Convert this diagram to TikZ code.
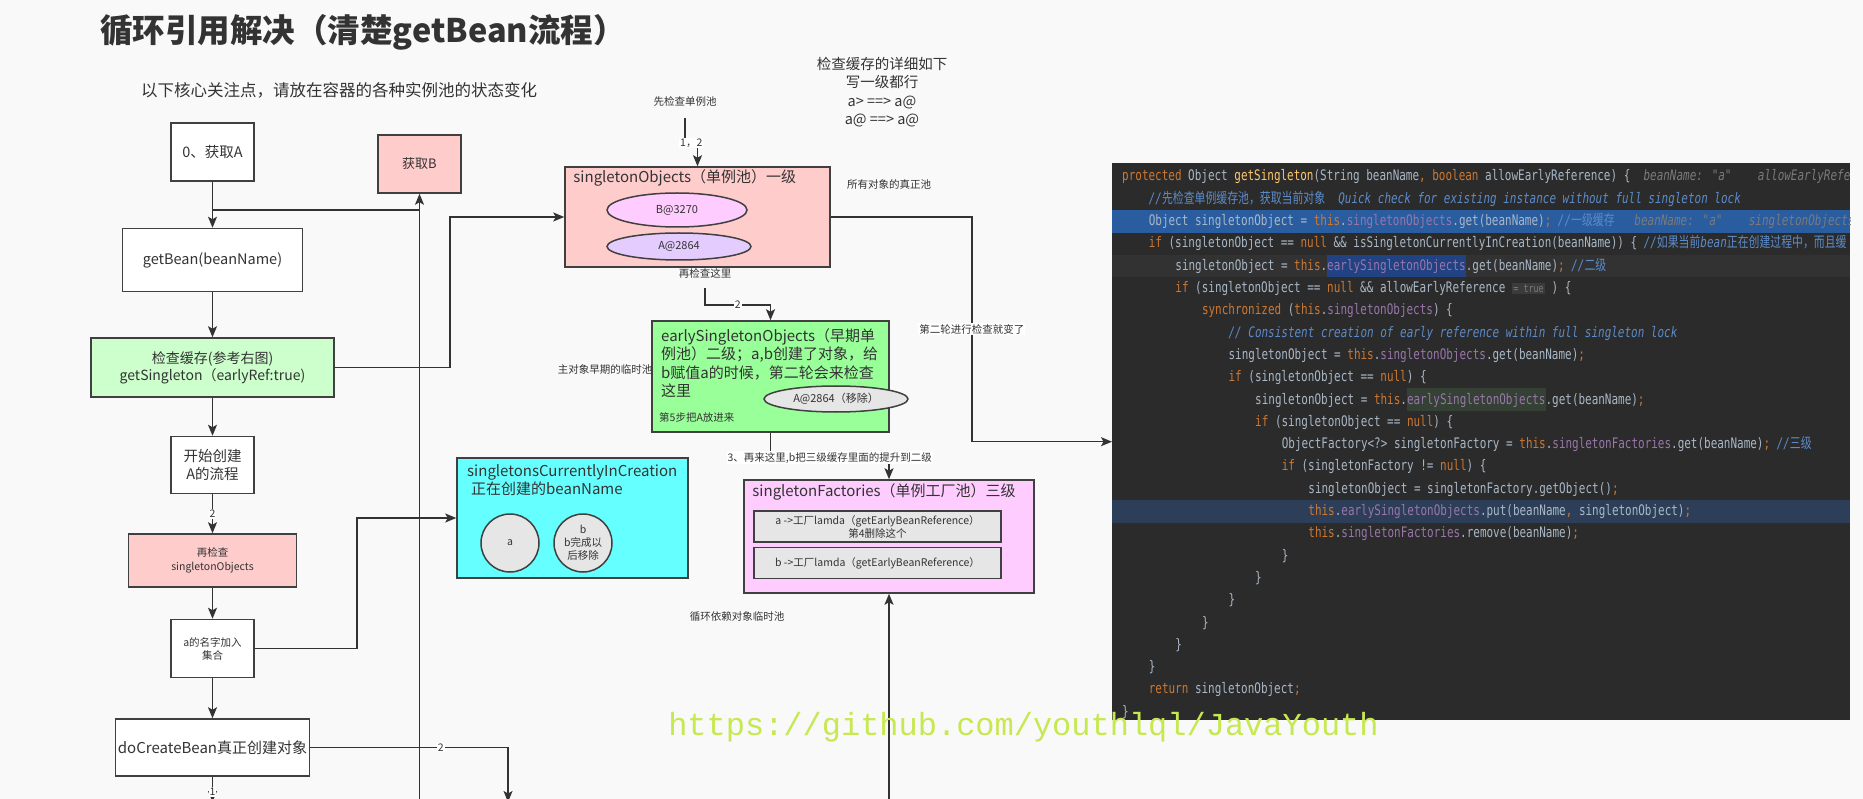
\documentclass[tikz,border=0pt]{standalone}
\usepackage{fontspec}
\setmainfont{Noto Sans CJK SC}
\newfontfamily\codefont[FakeStretch=0.756]{DejaVu Sans Mono}
\newfontfamily\zhcode[FakeStretch=0.75]{Noto Sans CJK SC}
\newfontfamily\wmfont{Liberation Mono}
\usetikzlibrary{arrows.meta, positioning, shapes.geometric, calc}
\definecolor{canvas}{HTML}{F9F9F9}
\definecolor{linedark}{HTML}{333333}
\definecolor{boxline}{HTML}{404040}
\definecolor{textgray}{HTML}{333333}
\definecolor{pinkfill}{HTML}{FFCCCC}
\definecolor{mintfill}{HTML}{CCFFCC}
\definecolor{earlygreen}{HTML}{99FF99}
\definecolor{cyanfill}{HTML}{66FFFF}
\definecolor{magfill}{HTML}{FFCCFF}
\definecolor{lavfill}{HTML}{E5CCFF}
\definecolor{grayfill}{HTML}{E6E6E6}
\definecolor{watermark}{HTML}{C6E850}
\definecolor{codebg}{HTML}{2B2B2B}
\definecolor{codetxt}{HTML}{A9B7C6}
\definecolor{codekw}{HTML}{CC7832}
\definecolor{codefld}{HTML}{9876AA}
\definecolor{codefn}{HTML}{FFC66D}
\definecolor{codecmt}{HTML}{5C8BC9}
\definecolor{codehint}{HTML}{7A7A7A}
\definecolor{hintbg}{HTML}{3B3B3B}
\definecolor{rowblue}{HTML}{2A5D9F}
\definecolor{rowgray}{HTML}{323232}
\definecolor{rownavy}{HTML}{2D3F58}
\definecolor{codesel}{HTML}{214283}
\definecolor{codegrn}{HTML}{344134}

\newcommand{\fsz}[2]{\fontsize{#1}{#2}\selectfont}
\newcommand{\kw}[1]{\textcolor{codekw}{#1}}
\newcommand{\fld}[1]{\textcolor{codefld}{#1}}
\newcommand{\fn}[1]{\textcolor{codefn}{#1}}
\newcommand{\cmt}[1]{{\itshape\color{codecmt}#1}}
\newcommand{\zh}[1]{{\zhcode #1}}
\newcommand{\hint}[1]{{\itshape\color{codehint}#1}}
\newcommand{\hlbg}[2]{{\setlength{\fboxsep}{0pt}\colorbox{#1}{\strut#2}}}
\newcommand{\hintbox}[1]{{\setlength{\fboxsep}{1.5pt}\colorbox{hintbg}{\textcolor{codehint}{\fsz{11}{13}#1}}}}
\newcommand{\codeln}[3]{\node[codeline] (ln#2) at ({1122+26.6*#1},{181+22.3*(#2-1)}) {#3};}

\begin{document}
\begin{tikzpicture}[
    x=1pt, y=-1pt,
    box/.style={draw=boxline, line width=1.5pt, fill=#1, text=textgray, align=center, inner sep=2pt, font=\fsz{14.5}{18}},
    box/.default=white,
    pool/.style={draw=boxline, line width=1.5pt, fill=#1},
    pooltitle/.style={anchor=base west, inner sep=0pt, text=textgray, font=\fsz{15}{18.5}, align=left},
    oval/.style={ellipse, draw=boxline, line width=1.5pt, fill=#1, text=textgray, inner sep=0pt, font=\fsz{11}{13}},
    circ/.style={circle, draw=boxline, line width=1.5pt, fill=grayfill, text=textgray, minimum size=58pt, inner sep=0pt, align=center, font=\fsz{10.5}{13}},
    slot/.style={draw=boxline, line width=1.5pt, fill=grayfill, text=textgray, minimum width=247pt, minimum height=31pt, inner sep=0pt, align=center, font=\fsz{10.5}{13}},
    note/.style={text=textgray, font=\fsz{10.5}{13}, inner sep=1pt},
    lbl/.style={note, fill=white},
    line/.style={draw=linedark, line width=1.5pt},
    arrow/.style={line, -{Stealth[length=11pt, width=9pt, inset=2.5pt]}},
    codeline/.style={anchor=base west, inner sep=0pt, font=\codefont\fsz{14.5}{22.3}, text=codetxt},
]
\useasboundingbox (0,0) rectangle (1863,799);
\fill[canvas] (0,0) rectangle (1863,799);

% Heading
\node[text=textgray, font=\bfseries\fsz{32.5}{38}] (title) at (363,32) {循环引用解决（清楚getBean流程）};
\node[text=textgray, font=\fsz{16.5}{20}] (subtitle) at (339,90) {以下核心关注点，请放在容器的各种实例池的状态变化};
\node[text=textgray, font=\fsz{14.5}{18.5}, align=center] (cachenote) at (882,92) {检查缓存的详细如下\\写一级都行\\a> ==> a@\\a@ ==> a@};

% Main flow of A
\node[box, minimum width=83pt, minimum height=58pt] (getA) at (212.5,152) {0、获取A};
\node[box, minimum width=180pt, minimum height=63pt, below=46pt of getA] (getbean) {getBean(beanName)};
\node[box=mintfill, minimum width=243pt, minimum height=59pt, below=45pt of getbean, font=\fsz{14}{17}] (checkcache) {检查缓存(参考右图)\\getSingleton（earlyRef:true)};
\node[box, minimum width=83pt, minimum height=57pt, below=38pt of checkcache] (startA) {开始创建\\A的流程};
\node[box=pinkfill, minimum width=168pt, minimum height=53pt, below=39pt of startA, font=\fsz{10.5}{13.5}] (recheck) {再检查\\singletonObjects};
\node[box, minimum width=83pt, minimum height=58pt, below=31pt of recheck, font=\fsz{10.5}{13}] (addname) {a的名字加入\\集合};
\node[box, minimum width=194pt, minimum height=57pt, below=40pt of addname, font=\fsz{15}{18}] (docreate) {doCreateBean真正创建对象};
\node[box=pinkfill, minimum width=83pt, minimum height=58pt, font=\fsz{13}{16}] (getB) at (419.5,164) {获取B};

% Pools
\node[pool=pinkfill, minimum width=265pt, minimum height=100pt] (so) at (697.5,217) {};
\node[pooltitle] (sotitle) at ($(so.north west)+(9,16.5)$) {singletonObjects（单例池）一级};
\node[oval=magfill, minimum width=140pt, minimum height=34pt] (objB) at (677,210) {B@3270};
\node[oval=lavfill, minimum width=144pt, minimum height=27pt] (objA) at (679,246.5) {A@2864};

\node[pool=earlygreen, minimum width=237pt, minimum height=111pt] (early) at (770.5,376.5) {};
\node[pooltitle, anchor=north west] (earlytitle) at (661,328) {earlySingletonObjects（早期单\\例池）二级；a,b创建了对象，给\\b赋值a的时候，第二轮会来检查\\这里};
\node[oval=grayfill, minimum width=144pt, minimum height=26pt] (earlyA) at (836,399) {A@2864（移除）};
\node[note, anchor=west] (step5) at (658,417) {第5步把A放进来};

\node[pool=cyanfill, minimum width=231pt, minimum height=120pt] (creation) at (572.5,518) {};
\node[pooltitle, anchor=north west] (creationtitle) at (467,464) {singletonsCurrentlyInCreation\\\hspace{4pt}正在创建的beanName};
\node[circ] (nameA) at (510,543) {a};
\node[circ] (nameB) at (583,543) {b\\b完成以\\后移除};

\node[pool=magfill, minimum width=290pt, minimum height=113pt] (factories) at (889,536.5) {};
\node[pooltitle] (factitle) at ($(factories.north west)+(9,17)$) {singletonFactories（单例工厂池）三级};
\node[slot] (facA) at (877.5,526.5) {a ->工厂lamda（getEarlyBeanReference）\\第4删除这个};
\node[slot] (facB) at (877.5,563) {b ->工厂lamda（getEarlyBeanReference）};

% Notes
\node[note] (firstcheck) at (685,102) {先检查单例池};
\node[note] (realpool) at (889,185) {所有对象的真正池};
\node[note] (checkhere) at (705,273) {再检查这里};
\node[note] (earlypool) at (605,370) {主对象早期的临时池};
\node[note] (looppool) at (737,617) {循环依赖对象临时池};

% Free ends
\coordinate (c12) at (685,118);
\coordinate (c2) at (705,288);
\coordinate (junc) at (419.5,210);
\coordinate (upB) at (419.5,802);
\coordinate (downA) at (212.5,802);
\coordinate (down2) at (508,802);
\coordinate (upF) at (889,802);

% Code panel
\node[fill=codebg, minimum width=738pt, minimum height=557pt, anchor=north west, inner sep=0pt] (code) at (1112,163) {};
\begin{scope}
\clip (code.south west) rectangle (code.north east);
\fill[rowblue] (code.west |- 0,210.5) rectangle (code.east |- 0,232.7);
\fill[rowgray] (code.west |- 0,255) rectangle (code.east |- 0,277.4);
\fill[rownavy] (code.west |- 0,500.4) rectangle (code.east |- 0,522.7);
\codeln{0}{1}{\kw{protected} Object \fn{getSingleton}(String beanName\kw{,} \kw{boolean} allowEarlyReference) \{\ \ \hint{beanName: "a"\ \ \ \ allowEarlyRefe}}
\codeln{1}{2}{\cmt{//\zh{先检查单例缓存池，获取当前对象}\ \ Quick check for existing instance without full singleton lock}}
\codeln{1}{3}{Object singletonObject = \kw{this}.\fld{singletonObjects}.get(beanName)\kw{;} \cmt{//\zh{一级缓存}}\ \ \ \hint{beanName: "a"\ \ \ \ singletonObjects}}
\codeln{1}{4}{\kw{if} (singletonObject == \kw{null} \&\& isSingletonCurrentlyInCreation(beanName)) \{ \cmt{//\zh{如果当前}bean\zh{正在创建过程中，而且缓}}}
\codeln{2}{5}{singletonObject = \kw{this}.\hlbg{codesel}{\fld{earlySingletonObjects}}.get(beanName)\kw{;} \cmt{//\zh{二级}}}
\codeln{2}{6}{\kw{if} (singletonObject == \kw{null} \&\& allowEarlyReference \hintbox{= true} ) \{}
\codeln{3}{7}{\kw{synchronized} (\kw{this}.\fld{singletonObjects}) \{}
\codeln{4}{8}{\cmt{// Consistent creation of early reference within full singleton lock}}
\codeln{4}{9}{singletonObject = \kw{this}.\fld{singletonObjects}.get(beanName)\kw{;}}
\codeln{4}{10}{\kw{if} (singletonObject == \kw{null}) \{}
\codeln{5}{11}{singletonObject = \kw{this}.\hlbg{codegrn}{\fld{earlySingletonObjects}}.get(beanName)\kw{;}}
\codeln{5}{12}{\kw{if} (singletonObject == \kw{null}) \{}
\codeln{6}{13}{ObjectFactory<?> singletonFactory = \kw{this}.\fld{singletonFactories}.get(beanName)\kw{;} \cmt{//\zh{三级}}}
\codeln{6}{14}{\kw{if} (singletonFactory != \kw{null}) \{}
\codeln{7}{15}{singletonObject = singletonFactory.getObject()\kw{;}}
\codeln{7}{16}{\kw{this}.\fld{earlySingletonObjects}.put(beanName\kw{,} singletonObject)\kw{;}}
\codeln{7}{17}{\kw{this}.\fld{singletonFactories}.remove(beanName)\kw{;}}
\codeln{6}{18}{\}}
\codeln{5}{19}{\}}
\codeln{4}{20}{\}}
\codeln{3}{21}{\}}
\codeln{2}{22}{\}}
\codeln{1}{23}{\}}
\codeln{1}{24}{\kw{return} singletonObject\kw{;}}
\codeln{0}{25}{\}}
\end{scope}

% Connectors
\draw[arrow] (getA) -- (getbean);
\draw[arrow] (getbean) -- (checkcache);
\draw[arrow] (checkcache) -- (startA);
\draw[arrow] (startA) -- node[lbl] {2} (recheck);
\draw[arrow] (recheck) -- (addname);
\draw[arrow] (addname) -- (docreate);
\draw[arrow] (docreate) -- node[lbl, pos=0.6] {1} (downA);
\draw[arrow] (upB) -- (getB);
\draw[line] (junc) -- (junc -| getA.south);
\draw[arrow] (checkcache.east) -- ++(115,0) |- (so.west);
\draw[arrow] (addname.east) -- ++(102,0) |- (creation.west);
\draw[arrow] (docreate.east) -| node[lbl, pos=0.33] {2} (down2);
\draw[arrow] (c12) -- ++(0,25) -| node[lbl, pos=0.25] {1，2} (so.north);
\draw[arrow] (c2) -- ++(0,17) -| node[lbl, pos=0.25] {2} (early.north);
\draw[arrow] (so.east) -- ++(141,0) |- node[lbl, pos=0.25] {第二轮进行检查就变了} (code.west);
\draw[arrow] (early.south) -- ++(0,25) -| node[lbl, pos=0.25] {3、再来这里,b把三级缓存里面的提升到二级} (factories.north);
\draw[arrow] (upF) -- (factories.south);

% Watermark
\node[font=\wmfont\fsz{32}{36}, text=watermark, anchor=base] (wm) at (1023.5,735) {https://github.com/youthlql/JavaYouth};

\end{tikzpicture}
\end{document}
